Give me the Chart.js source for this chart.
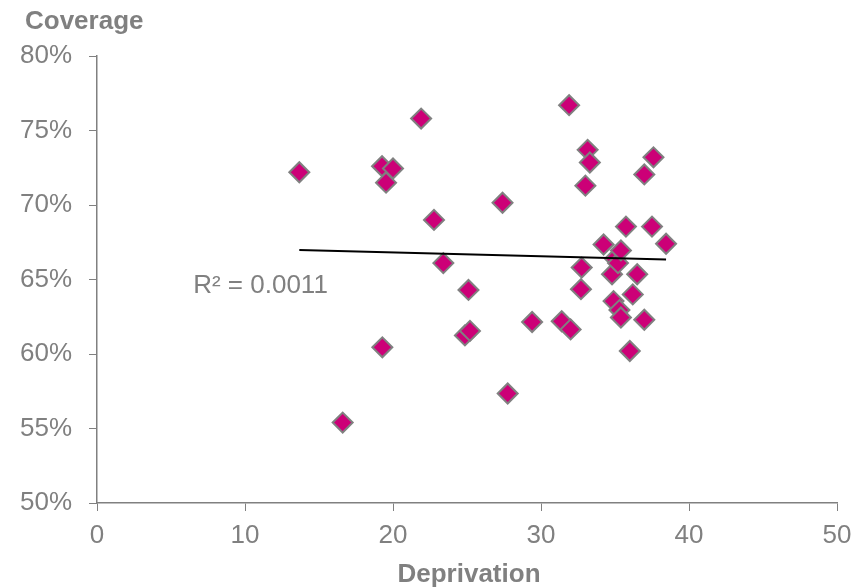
<!DOCTYPE html>
<html>
<head>
<meta charset="utf-8">
<script src="https://cdn.jsdelivr.net/npm/chart.js@4.4.1/dist/chart.umd.min.js"></script>
<style>
  html, body { margin: 0; padding: 0; background: #ffffff; }
  #wrap { width: 864px; height: 587px; }
</style>
</head>
<body>
<div id="wrap"><canvas id="chart" width="864" height="587"></canvas></div>
<script>
// Deprivation score vs coverage (%)
const deprivation = [
  13.67, 16.6, 19.26, 20.0, 19.53, 19.28, 21.9, 22.77, 23.4, 25.1,
  24.86, 25.2, 27.4, 27.75, 29.4, 31.4, 32.0, 31.9, 33.15, 33.3,
  33.0, 32.75, 32.7, 34.23, 34.8, 34.9, 35.0, 35.2, 35.4, 35.3,
  35.4, 35.74, 36.0, 36.2, 36.5, 36.98, 36.98, 37.5, 37.6, 38.45
];
const coverage = [
  72.2, 55.4, 72.6, 72.45, 71.5, 60.45, 75.8, 69.0, 66.1, 64.3,
  61.25, 61.55, 70.15, 57.35, 62.15, 62.2, 61.65, 76.7, 73.7, 72.85,
  71.3, 65.8, 64.35, 67.35, 65.35, 63.55, 66.4, 66.1, 66.95, 62.95,
  62.45, 68.55, 60.2, 64.0, 65.35, 72.05, 62.3, 68.55, 73.2, 67.4
];

// linear trendline as drawn in the picture
const trendX = [13.67, 38.45];
const trendY = [66.98, 66.35];
const rSquared = "R\u00b2 = 0.0011";
const rLabelAt = [6.5, 64.1];

const xTicks = [0, 10, 20, 30, 40, 50];
const yTicks = [50, 55, 60, 65, 70, 75, 80];

const GREY = "#808080";
const FONT = "'Liberation Sans', Arial, sans-serif";

const points = deprivation.map((x, i) => ({ x, y: coverage[i] }));
const trend = trendX.map((x, i) => ({ x, y: trendY[i] }));

// titles and R² label
const textPlugin = {
  id: "texts",
  afterDraw(chart) {
    const { ctx, chartArea, scales } = chart;
    ctx.save();
    ctx.fillStyle = GREY;
    ctx.textBaseline = "alphabetic";

    ctx.font = `bold 26px ${FONT}`;
    ctx.textAlign = "left";
    ctx.fillText("Coverage", 25, 29);

    ctx.textAlign = "center";
    ctx.fillText("Deprivation", (chartArea.left + chartArea.right) / 2 + 2, chartArea.bottom + 79);

    ctx.font = `26px ${FONT}`;
    ctx.textAlign = "left";
    ctx.fillText(rSquared, scales.x.getPixelForValue(rLabelAt[0]), scales.y.getPixelForValue(rLabelAt[1]));
    ctx.restore();
  }
};

new Chart(document.getElementById("chart"), {
  type: "scatter",
  data: {
    datasets: [
      {
        label: "Coverage",
        data: points,
        pointStyle: "rectRot",
        pointRadius: 10,
        pointHoverRadius: 10,
        backgroundColor: "#CC0077",
        borderColor: GREY,
        borderWidth: 2,
        order: 1
      },
      {
        label: "Trend",
        type: "line",
        data: trend,
        borderColor: "#000000",
        borderWidth: 2,
        pointRadius: 0,
        fill: false,
        order: 0
      }
    ]
  },
  options: {
    responsive: false,
    animation: false,
    layout: { padding: { top: 56, right: 27, left: 0, bottom: 0 } },
    plugins: {
      legend: { display: false },
      tooltip: { enabled: false }
    },
    scales: {
      x: {
        type: "linear",
        min: 0,
        max: 50,
        afterBuildTicks: (s) => { s.ticks = xTicks.map(v => ({ value: v })); },
        afterFit: (s) => { s.height = 84; },
        ticks: { color: GREY, font: { family: FONT, size: 26 }, padding: 9 },
        grid: { drawOnChartArea: false, drawTicks: true, tickLength: 8, color: GREY },
        border: { color: GREY, width: 1.5 }
      },
      y: {
        type: "linear",
        min: 50,
        max: 80,
        afterBuildTicks: (s) => { s.ticks = yTicks.map(v => ({ value: v })); },
        afterFit: (s) => { s.width = 97; },
        ticks: {
          color: GREY,
          font: { family: FONT, size: 26 },
          padding: 17,
          callback: (v) => v + "%"
        },
        grid: { drawOnChartArea: false, drawTicks: true, tickLength: 8, color: GREY },
        border: { color: GREY, width: 1.5 }
      }
    }
  },
  plugins: [textPlugin]
});
</script>
</body>
</html>
